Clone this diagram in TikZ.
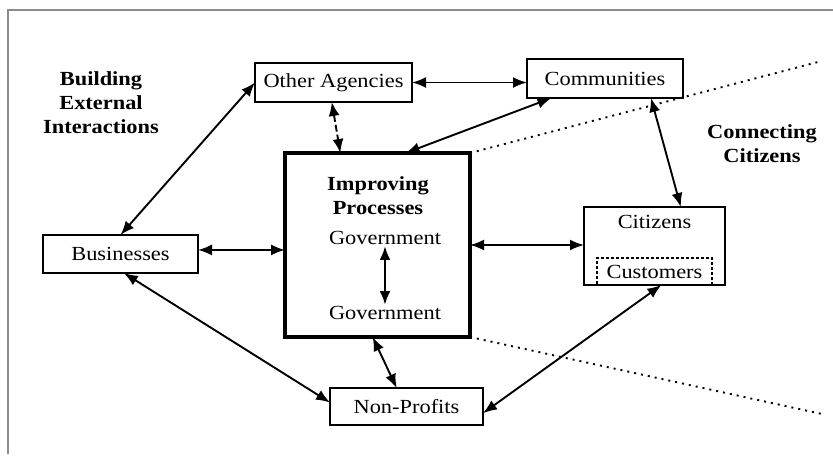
\documentclass[tikz,border=0pt]{standalone}
\usepackage{fontspec}
\setmainfont{Liberation Serif}[FakeStretch=1.12]
\usetikzlibrary{arrows.meta,positioning}

\begin{document}
\begin{tikzpicture}[x=1pt, y=-1pt,
	basic/.style  = {draw, rectangle, line width=2.8pt, inner sep=0pt, outer sep=0pt, font=\fontsize{20}{24}\selectfont},
	actor/.style  = {basic, minimum width=155pt, minimum height=39pt},
	core/.style   = {basic, line width=4.8pt, minimum width=185pt, minimum height=184pt},
	title/.style  = {align=center, inner sep=0pt, font=\fontsize{20}{24}\selectfont\bfseries},
	plain/.style  = {inner sep=1pt, font=\fontsize{20}{24}\selectfont},
	link/.style   = {<->, line width=1.9pt},
	divide/.style = {line width=1.9pt, dash pattern=on 2pt off 5pt},
	>={Latex[length=14pt,width=11pt]}]

	\useasboundingbox (0,0) rectangle (833,464);
	\draw[line width=2pt, black!45] (8,454) -- (8,10) -- (833,10);

	\node[core] (proc) at (377.5,245) {};
	\node[actor, minimum width=157pt] (agency) at (333.5,82.5) {Other Agencies};
	\node[actor, minimum width=156pt] (comm) at (605,78.5) {Communities};
	\node[actor, minimum height=38pt] (bus) at (120.5,254) {Businesses};
	\node[actor, minimum width=153pt, minimum height=37pt] (nonprof) at (406.5,406.5) {Non-Profits};
	\node[basic, minimum width=141pt, minimum height=78pt] (cit) at (654.5,246) {};

	\begin{scope}[every node/.style={plain}]
	\node (citname) at (654.5,222) {Citizens};
	\node[draw, line width=1.5pt, dash pattern=on 3pt off 2pt, minimum width=115pt, minimum height=27pt, inner sep=0pt] (cust) at (654.5,271.5) {Customers};
	\node (gov1) at (385,238) {Government};
	\node (gov2) at (385,313) {Government};
	\end{scope}

	\node[title] (improve) at (378,196) {Improving\\Processes};
	\node[title] (build) at (101,103) {Building\\External\\Interactions};
	\node[title] (connect) at (762,144) {Connecting\\Citizens};

	\coordinate (edge1) at (818,62);
	\coordinate (edge2) at (822,414);
	\draw[divide] (proc.north east) -- (edge1);
	\draw[divide] (proc.south east) -- (edge2);

	\draw[link] (agency.east) -- (agency.east -| comm.west);
	\draw[link] (agency.west) -- (bus.north);
	\draw[link, dash pattern=on 7pt off 3pt] (agency.265) -- (proc.112);
	\draw[link] (comm.200) -- (proc.73);
	\draw[link] (comm.-23) -- (cit.56);
	\draw[link] (bus.3) -- (bus.3 -| proc.west);
	\draw[link] (proc.east) -- (proc.east -| cit.west);
	\draw[link] (bus.-80) -- (nonprof.177);
	\draw[link] (proc.-93) -- (nonprof.118);
	\draw[link] (cit.-80) -- (nonprof.-5);
	\draw[link, line width=2.8pt] (gov1) -- (gov2);

\end{tikzpicture}
\end{document}
